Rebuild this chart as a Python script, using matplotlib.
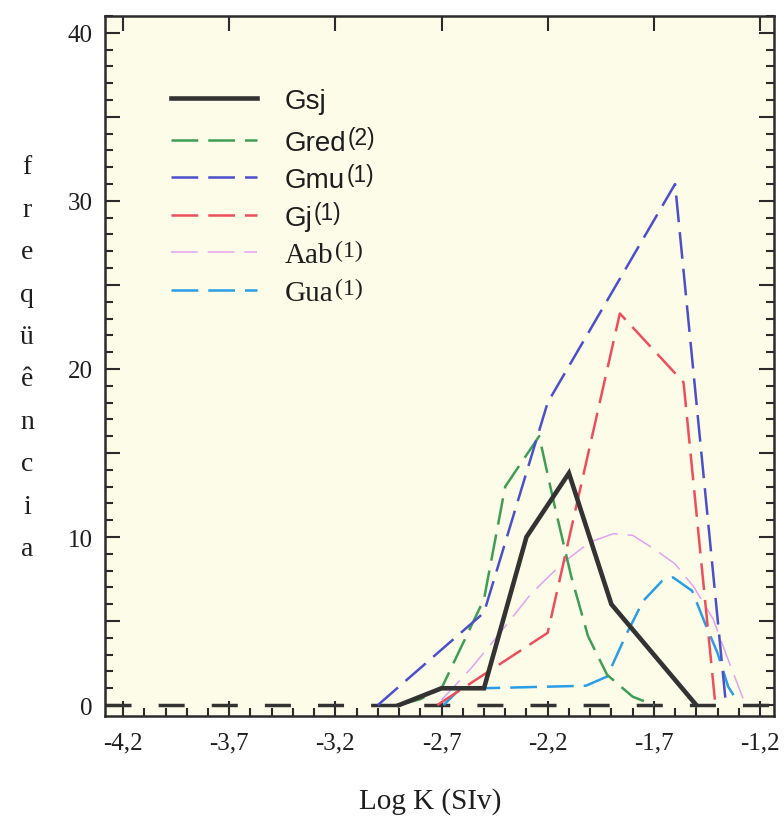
import matplotlib
matplotlib.use("Agg")
import matplotlib.pyplot as plt
from matplotlib.ticker import MultipleLocator, FuncFormatter
from matplotlib.lines import Line2D

# ---- data: frequency distributions of log K (SIv) ----
gsj_x = [-2.9, -2.7, -2.5, -2.3, -2.1, -1.9, -1.7, -1.5]
gsj_y = [0, 1, 1, 10, 13.8, 6, 3, 0]

gred_x = [-2.9, -2.8, -2.7, -2.5, -2.4, -2.24, -2.17, -2.09, -2.01, -1.92, -1.8, -1.7]
gred_y = [0, 0.35, 1, 6.3, 13, 16, 12, 7.7, 4.1, 1.8, 0.5, 0]

gmu_x = [-3.0, -2.5, -2.2, -1.6, -1.36]
gmu_y = [0, 5.5, 18, 31, 0]

gj_x = [-2.72, -2.2, -1.86, -1.56, -1.41]
gj_y = [0, 4.3, 23.3, 19.2, 0]

aab_x = [-2.70, -2.56, -2.43, -2.28, -2.13, -2.00, -1.89, -1.80, -1.70, -1.60, -1.51, -1.42, -1.35, -1.28]
aab_y = [0.3, 2.2, 4.2, 6.6, 8.45, 9.7, 10.2, 10.1, 9.3, 8.4, 7.0, 5.1, 2.7, 0.4]

gua_x = [-2.69, -2.61, -2.51, -2.02, -1.92, -1.83, -1.75, -1.66, -1.61, -1.52, -1.46, -1.40, -1.35, -1.32, -1.29]
gua_y = [0, 1.0, 1.0, 1.15, 1.7, 4.2, 6.2, 7.4, 7.6, 6.8, 4.9, 3.1, 1.1, 0.5, 0.45]

names = ["Gsj", "Gred", "Gmu", "Gj", "Aab", "Gua"]
supers = ["", "(2)", "(1)", "(1)", "(1)", "(1)"]

x_ticks = [-4.2, -3.7, -3.2, -2.7, -2.2, -1.7, -1.2]
y_tick_labels = [0, 10, 20, 30, 40]

# ---- figure ----
W, H = 784, 820
fig = plt.figure(figsize=(W / 100, H / 100), dpi=100)
fig.patch.set_facecolor("white")


def fx(px):
    return px / W


def fy(py):
    return 1 - py / H


SERIF = ["Liberation Serif", "DejaVu Serif"]
SANS = ["Liberation Sans", "DejaVu Sans"]
INK = "#2b2b2b"
TXT = "#1e1e1e"

ax = fig.add_axes([fx(105), fy(717), fx(774) - fx(105), fy(17) - fy(717)])
ax.set_facecolor("#fdfce8")
ax.set_xlim(-4.285, -1.134)
ax.set_ylim(-0.65, 41.0)

# zero baseline
ax.axhline(0, color="#333333", lw=2.5, dashes=(7.5, 7.8), zorder=2)

styles = [
    dict(color="#333333", lw=3.3, ls="-", solid_joinstyle="miter"),
    dict(color="#3f9d55", lw=1.8, dashes=(10.7, 4)),
    dict(color="#4a50cc", lw=1.8, dashes=(10.7, 4)),
    dict(color="#ec4e5c", lw=1.8, dashes=(10.7, 4)),
    dict(color="#e3a2f0", lw=1.1, dashes=(17.5, 6.5)),
    dict(color="#2b9de6", lw=1.8, dashes=(10.7, 4)),
]
data = [(gsj_x, gsj_y), (gred_x, gred_y), (gmu_x, gmu_y),
        (gj_x, gj_y), (aab_x, aab_y), (gua_x, gua_y)]

order = [4, 5, 1, 3, 2, 0]  # black line drawn last, on top
for i in order:
    xs, ys = data[i]
    ax.plot(xs, ys, zorder=3 + (i == 0), **styles[i])

# ---- axes styling ----
for sp in ax.spines.values():
    sp.set_color(INK)
    sp.set_linewidth(1.8)

ax.xaxis.set_major_locator(plt.FixedLocator(x_ticks))
ax.xaxis.set_minor_locator(MultipleLocator(0.1))
ax.yaxis.set_major_locator(MultipleLocator(5))
ax.yaxis.set_minor_locator(MultipleLocator(1))

ax.xaxis.set_major_formatter(FuncFormatter(lambda v, p: f"{v:.1f}".replace(".", ",")))
ax.yaxis.set_major_formatter(
    FuncFormatter(lambda v, p: f"{int(round(v))}" if int(round(v)) in y_tick_labels else ""))

ax.tick_params(which="both", direction="in", top=True, right=True,
               color=INK, width=1.5)
ax.tick_params(which="major", length=11)
ax.tick_params(which="minor", length=6)
ax.tick_params(axis="x", which="minor", top=False)
ax.tick_params(axis="x", which="major", pad=11, labelsize=18)
ax.tick_params(axis="y", which="major", pad=9, labelsize=18)
for lab in ax.get_xticklabels() + ax.get_yticklabels():
    lab.set_fontfamily(SERIF)
    lab.set_color(TXT)

# axis titles
fig.text(fx(430), fy(802), "Log K (SIv)", ha="center", va="center",
         fontsize=21, family=SERIF, color=TXT)
for k, ch in enumerate("freqüência"):
    fig.text(fx(27), fy(168 + k * 42.4), ch, ha="center", va="center",
             fontsize=20, family=SERIF, color=TXT)

# ---- legend ----
renderer = fig.canvas.get_renderer()
row_y = [99, 140.7, 178.3, 216, 253.3, 291]
for i, name in enumerate(names):
    y = row_y[i]
    st = dict(styles[i])
    fig.add_artist(Line2D([fx(171), fx(257)], [fy(y), fy(y)],
                          transform=fig.transFigure, **st))
    serif = name in ("Aab", "Gua")
    fam = SERIF if serif else SANS
    size = 21 if serif else 20
    t = fig.text(fx(285), fy(y + 10), name, ha="left", va="baseline",
                 fontsize=size, family=fam, color=TXT)
    if supers[i]:
        bb = t.get_window_extent(renderer)
        fig.text((bb.x1 + 1) / W, fy(y + 10 - 6), supers[i], ha="left",
                 va="baseline", fontsize=size * 0.82, family=fam, color=TXT)

fig.savefig("out.png", dpi=100)
